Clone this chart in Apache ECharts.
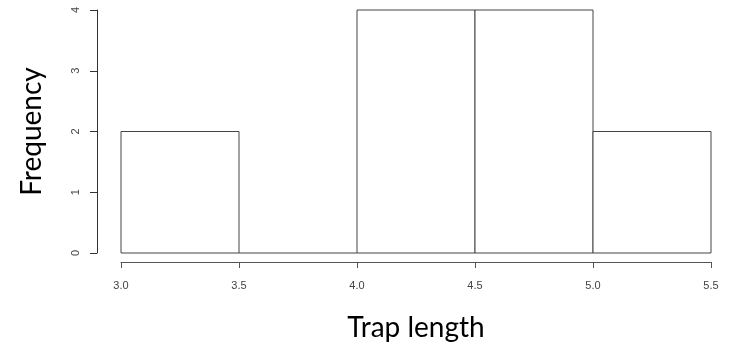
<!DOCTYPE html>
<html><head><meta charset="utf-8">
<script src="https://cdn.jsdelivr.net/npm/echarts@6/dist/echarts.min.js"></script>
<style>html,body{margin:0;padding:0;background:#fff}#c{width:738px;height:344px}</style>
</head><body><div id="c"></div>
<script>
const binStarts = [3.0, 3.5, 4.0, 4.5, 5.0];
const binEnds = [3.5, 4.0, 4.5, 5.0, 5.5];
const counts = [2, 0, 4, 4, 2];
const xTickLabels = ['3.0', '3.5', '4.0', '4.5', '5.0', '5.5'];
const yTicks = [0, 1, 2, 3, 4];

const data = binStarts.map((s, i) => [s, binEnds[i], counts[i]]);
const chart = echarts.init(document.getElementById('c'), null, {renderer: 'canvas'});
const tickFont = "'Liberation Sans Narrow','Liberation Sans',Arial,sans-serif";
const titleFont = "Lato,'Open Sans',sans-serif";
chart.setOption({
  animation: false,
  backgroundColor: '#fff',
  grid: {left: 121, right: 27, top: 10, bottom: 91, containLabel: false, outerBoundsMode: 'none'},
  xAxis: {
    type: 'value', min: 3.0, max: 5.5, interval: 0.5, offset: 9,
    name: 'Trap length', nameLocation: 'middle', nameGap: 52,
    nameTextStyle: {fontFamily: titleFont, fontSize: 28, color: '#000'},
    axisLine: {show: true, onZero: false, lineStyle: {color: '#555', width: 1}},
    axisTick: {show: true, length: 6, lineStyle: {color: '#555'}},
    axisLabel: {fontFamily: tickFont, fontSize: 11, color: '#444', margin: 18,
      formatter: v => xTickLabels[Math.round((v - 3.0) / 0.5)]},
    splitLine: {show: false}
  },
  yAxis: {
    type: 'value', min: 0, max: 4, interval: 1, offset: 24,
    name: 'Frequency', nameLocation: 'middle', nameGap: 51,
    nameTextStyle: {fontFamily: titleFont, fontSize: 28, color: '#000'},
    axisLine: {show: true, onZero: false, lineStyle: {color: '#333', width: 1}},
    axisTick: {show: true, length: 7, lineStyle: {color: '#333'}},
    axisLabel: {fontFamily: tickFont, fontSize: 11, color: '#444', rotate: 90, margin: 16,
      formatter: v => String(yTicks[v])},
    splitLine: {show: false}
  },
  series: [{
    type: 'custom',
    data: data,
    encode: {x: [0, 1], y: 2},
    renderItem: function (params, api) {
      const p0 = api.coord([api.value(0), 0]);
      const p1 = api.coord([api.value(1), api.value(2)]);
      if (api.value(2) === 0) {
        return {type: 'line', shape: {x1: p0[0], y1: p0[1], x2: p1[0], y2: p0[1]},
          style: {stroke: '#444', lineWidth: 1}};
      }
      return {type: 'rect',
        shape: {x: p0[0], y: p1[1], width: p1[0] - p0[0], height: p0[1] - p1[1]},
        style: {fill: '#fff', stroke: '#444', lineWidth: 1}};
    }
  }]
});
</script></body></html>
